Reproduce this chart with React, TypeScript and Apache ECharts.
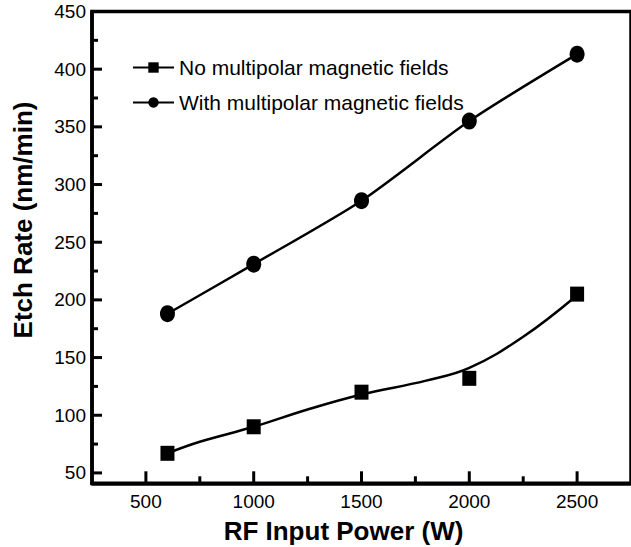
import React, { useEffect, useRef } from "react";
import * as echarts from "echarts";

// Measured points (RF input power in W, etch rate in nm/min)
const powers = [600, 1000, 1500, 2000, 2500];
const noFieldRates = [67, 90, 120, 132, 205];
const withFieldRates = [188, 231, 286, 355, 413];

// Fitted trend curve drawn through the "no field" points
const noFieldFitPowers = [600, 750, 1000, 1250, 1500, 1800, 2000, 2250, 2500];
const noFieldFitRates = [67, 77, 90, 105, 118, 130, 141, 168, 204];

// Axis ticks
const xMajorTicks = [500, 1000, 1500, 2000, 2500];
const xMinorTicks = [750, 1250, 1750, 2250];
const yMajorTicks = [50, 100, 150, 200, 250, 300, 350, 400, 450];
const yMinorTicks = [75, 125, 175, 225, 275, 325, 375, 425];

const seriesNames = ["No multipolar magnetic fields", "With multipolar magnetic fields"];
const xTitle = "RF Input Power (W)";
const yTitle = "Etch Rate (nm/min)";

const FONT = "'Liberation Sans', Arial, Helvetica, sans-serif";

const X_MIN = 250;
const X_MAX = 2750;
const Y_MIN = 41;
const Y_MAX = 450;

export default function App() {
  const ref = useRef<HTMLDivElement>(null);

  useEffect(() => {
    if (!ref.current) return;
    const chart = echarts.init(ref.current, undefined, { renderer: "svg" });

    const titles = [
      {
        type: "text",
        x: 343.5,
        y: 531,
        z: 10,
        style: {
          text: xTitle,
          fontFamily: FONT,
          fontWeight: "bold",
          fontSize: 26,
          fill: "#000",
          align: "center",
          verticalAlign: "middle",
        },
      },
      {
        type: "text",
        x: 22.5,
        y: 220,
        z: 10,
        rotation: Math.PI / 2,
        style: {
          text: yTitle,
          fontFamily: FONT,
          fontWeight: "bold",
          fontSize: 26,
          fill: "#000",
          align: "center",
          verticalAlign: "middle",
        },
      },
    ];

    chart.setOption({
      animation: false,
      backgroundColor: "#ffffff",
      grid: {
        left: 92,
        top: 11.5,
        width: 542,
        height: 471.8,
        show: true,
        borderColor: "#000",
        borderWidth: 3.5,
        backgroundColor: "transparent",
      },
      legend: {
        orient: "vertical",
        left: 132,
        top: 57,
        padding: 0,
        itemWidth: 41,
        itemHeight: 13,
        itemGap: 14,
        data: seriesNames,
        textStyle: { fontFamily: FONT, fontSize: 21, color: "#000", lineHeight: 21 },
      },
      xAxis: {
        type: "value",
        min: X_MIN,
        max: X_MAX,
        position: "bottom",
        splitLine: { show: false },
        axisLine: { show: true, lineStyle: { color: "#000", width: 3.5 } },
        axisTick: { show: false },
        axisLabel: {
          show: true,
          customValues: xMajorTicks,
          margin: 9,
          fontFamily: FONT,
          fontSize: 19,
          color: "#000",
          formatter: (v: number) => String(v),
        },
      },
      yAxis: {
        type: "value",
        min: Y_MIN,
        max: Y_MAX,
        position: "left",
        splitLine: { show: false },
        axisLine: { show: true, lineStyle: { color: "#000", width: 3.5 } },
        axisTick: { show: false },
        axisLabel: {
          show: true,
          customValues: yMajorTicks,
          margin: 6,
          fontFamily: FONT,
          fontSize: 19,
          color: "#000",
          formatter: (v: number) => String(v),
        },
      },
      graphic: titles,
      series: [
        {
          name: seriesNames[0],
          type: "line",
          data: noFieldFitPowers.map((p, i) => [p, noFieldFitRates[i]]),
          smooth: 0.4,
          symbol: "rect",
          showSymbol: false,
          lineStyle: { color: "#000", width: 2.5 },
          itemStyle: { color: "#000" },
          z: 2,
        },
        {
          name: "noFieldPoints",
          type: "scatter",
          data: powers.map((p, i) => [p, noFieldRates[i]]),
          symbol: "rect",
          symbolSize: [14, 15],
          itemStyle: { color: "#000", opacity: 1 },
          z: 3,
        },
        {
          name: seriesNames[1],
          type: "line",
          data: powers.map((p, i) => [p, withFieldRates[i]]),
          smooth: 0.25,
          symbol: "circle",
          symbolSize: [15, 17],
          showSymbol: true,
          lineStyle: { color: "#000", width: 2.5 },
          itemStyle: { color: "#000", opacity: 1 },
          z: 3,
        },
      ],
    });

    // Inward tick marks, positioned through the chart's own axis scales
    const ticks: any[] = [];
    const addX = (vals: number[], len: number) => {
      vals.forEach((v) => {
        const p = chart.convertToPixel({ gridIndex: 0 }, [v, Y_MIN]) as number[];
        ticks.push({
          type: "line",
          z: 10,
          silent: true,
          shape: { x1: p[0], y1: p[1], x2: p[0], y2: p[1] - len },
          style: { stroke: "#000", lineWidth: 3 },
        });
      });
    };
    const addY = (vals: number[], len: number) => {
      vals.forEach((v) => {
        const p = chart.convertToPixel({ gridIndex: 0 }, [X_MIN, v]) as number[];
        ticks.push({
          type: "line",
          z: 10,
          silent: true,
          shape: { x1: p[0], y1: p[1], x2: p[0] + len, y2: p[1] },
          style: { stroke: "#000", lineWidth: 3 },
        });
      });
    };
    addX(xMajorTicks, 12);
    addX(xMinorTicks, 7);
    addY(yMajorTicks, 10);
    addY(yMinorTicks, 6);

    chart.setOption({ graphic: [...titles, ...ticks] }, { replaceMerge: ["graphic"] });

    return () => {
      chart.dispose();
    };
  }, []);

  return (
    <div
      ref={ref}
      style={{ position: "absolute", left: 0, top: 0, width: 631, height: 547, background: "#fff" }}
    />
  );
}
